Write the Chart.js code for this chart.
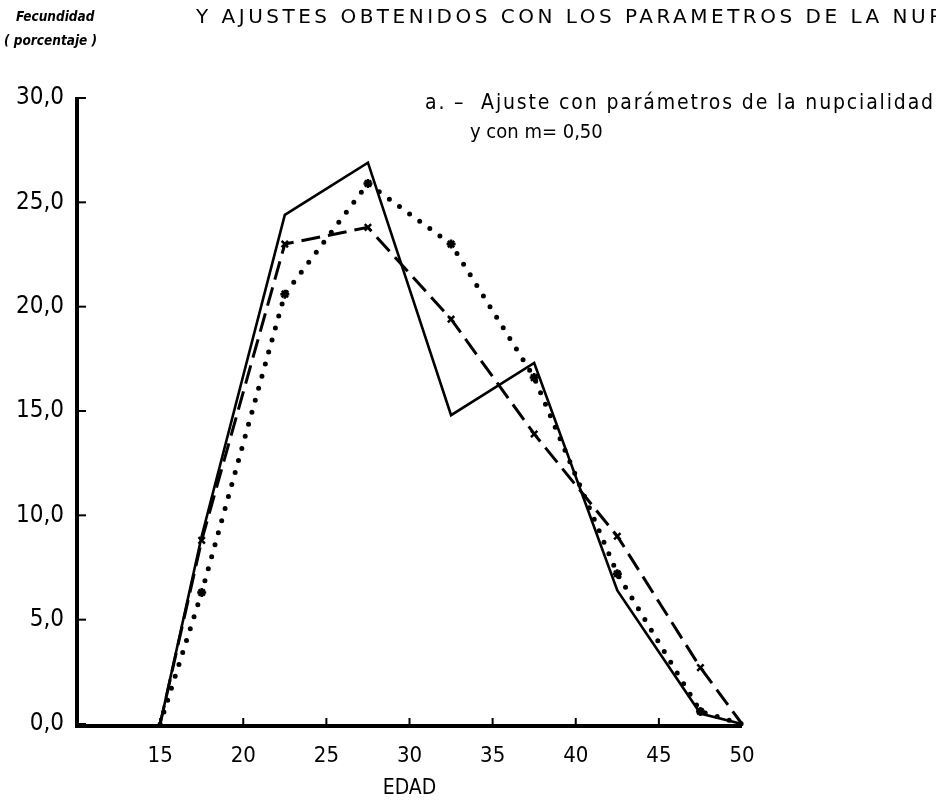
<!DOCTYPE html>
<html lang="es">
<head>
<meta charset="utf-8">
<title>Fecundidad por edad</title>
<script src="https://cdn.jsdelivr.net/npm/chart.js@4.4.1/dist/chart.umd.min.js"></script>
<style>
  html, body { margin: 0; padding: 0; background: #fff; overflow: hidden; }
  #wrap { position: relative; width: 936px; height: 803px; overflow: hidden; }
  canvas { position: absolute; left: 0; top: 0; }
  .txt { position: absolute; white-space: nowrap; color: #000;
         font-family: "DejaVu Sans Condensed", "Liberation Sans Narrow", "DejaVu Sans", sans-serif; }
  #titulo { left: 196px; top: 4px; font-size: 20px; letter-spacing: 3.5px;
            font-family: "DejaVu Sans", sans-serif; }
  #ylab1 { left: 16px; top: 8px; font-size: 13.5px; font-weight: bold; font-style: italic; }
  #ylab2 { left: 4px; top: 32px; font-size: 13.5px; font-weight: bold; font-style: italic; }
  #nota1 { left: 425px; top: 90px; font-size: 21px; letter-spacing: 1.85px; }
  #nota2 { left: 470px; top: 119px; font-size: 20px; }
</style>
</head>
<body>
<div id="wrap">
  <canvas id="grafico" width="936" height="803"></canvas>
  <div class="txt" id="titulo">Y AJUSTES OBTENIDOS CON LOS PARAMETROS DE LA NUPCIALIDAD</div>
  <div class="txt" id="ylab1">Fecundidad</div>
  <div class="txt" id="ylab2">( porcentaje )</div>
  <div class="txt" id="nota1">a. &#8211;&nbsp; Ajuste con parámetros de la nupcialidad</div>
  <div class="txt" id="nota2">y con m= 0,50</div>
</div>
<script>
// Edades (puntos medios de los grupos quinquenales) y tasas en porcentaje
const edades = [15, 17.5, 22.5, 27.5, 32.5, 37.5, 42.5, 47.5, 50];
const fecundidadObservada = [0, 9.0, 24.4, 26.9, 14.8, 17.3, 6.4, 0.5, 0];
const ajusteTrazos = [0, 8.8, 23.0, 23.8, 19.4, 13.9, 9.0, 2.7, 0];
const ajustePuntos = [0, 6.3, 20.6, 25.9, 23.0, 16.6, 7.2, 0.6, 0];
const ticksEdad = [15, 20, 25, 30, 35, 40, 45, 50];
const ticksFecundidad = [0, 5, 10, 15, 20, 25, 30];

const pares = serie => edades.map((e, i) => ({ x: e, y: serie[i] }));
const radioMarcas = edades.map(e => (e === 15 || e === 50) ? 0 : 4.5);

const FUENTE = '"DejaVu Sans Condensed", "Liberation Sans Narrow", "DejaVu Sans", sans-serif';

// Ejes en trazo grueso con marcas hacia el interior
const ejesPlugin = {
  id: 'ejes',
  afterDatasetsDraw(chart) {
    const { ctx, chartArea: a, scales: { x, y } } = chart;
    ctx.save();
    ctx.strokeStyle = '#000';
    ctx.lineCap = 'butt';
    ctx.lineWidth = 4;
    ctx.beginPath();
    ctx.moveTo(a.left, y.getPixelForValue(30) - 1);
    ctx.lineTo(a.left, a.bottom + 2);
    ctx.lineTo(x.getPixelForValue(50), a.bottom + 2);
    ctx.stroke();
    ctx.lineWidth = 2;
    ticksFecundidad.forEach(v => {
      const py = y.getPixelForValue(v);
      ctx.beginPath();
      ctx.moveTo(a.left, py);
      ctx.lineTo(a.left + 9, py);
      ctx.stroke();
    });
    ticksEdad.slice(0, -1).forEach(v => {
      const px = x.getPixelForValue(v);
      ctx.beginPath();
      ctx.moveTo(px, a.bottom);
      ctx.lineTo(px, a.bottom - 6);
      ctx.stroke();
    });
    ctx.restore();
  }
};

new Chart(document.getElementById('grafico'), {
  type: 'line',
  data: {
    datasets: [
      {
        label: 'Fecundidad observada',
        data: pares(fecundidadObservada),
        borderColor: '#000',
        borderWidth: 2.6,
        pointRadius: 0,
        tension: 0,
        clip: false
      },
      {
        label: 'Ajuste (trazos)',
        data: pares(ajusteTrazos),
        borderColor: '#000',
        borderWidth: 3,
        borderDash: [19, 8],
        pointStyle: 'crossRot',
        pointRadius: radioMarcas,
        pointBorderWidth: 2.5,
        pointBorderColor: '#000',
        tension: 0,
        clip: false
      },
      {
        label: 'Ajuste (puntos)',
        data: pares(ajustePuntos),
        borderColor: '#000',
        borderWidth: 5,
        borderDash: [0, 12.5],
        borderCapStyle: 'round',
        pointStyle: 'star',
        pointRadius: radioMarcas,
        pointBorderWidth: 2.5,
        pointBorderColor: '#000',
        tension: 0,
        clip: false
      }
    ]
  },
  options: {
    responsive: false,
    animation: false,
    devicePixelRatio: 1,
    layout: { padding: { left: 0, top: 98, right: 194, bottom: 0 } },
    plugins: { legend: { display: false }, tooltip: { enabled: false } },
    scales: {
      x: {
        type: 'linear',
        min: 10,
        max: 50,
        afterFit(s) { s.height = 79; },
        afterBuildTicks(s) { s.ticks = ticksEdad.map(v => ({ value: v })); },
        grid: { display: false, drawTicks: false },
        border: { display: false },
        ticks: {
          color: '#000',
          padding: 19,
          font: { family: FUENTE, size: 22 },
          callback: v => String(v)
        },
        title: {
          display: true,
          text: 'EDAD',
          color: '#000',
          font: { family: FUENTE, size: 21 },
          padding: { top: 0, bottom: 2 }
        }
      },
      y: {
        min: 0,
        max: 30,
        afterFit(s) { s.width = 77; },
        afterBuildTicks(s) { s.ticks = ticksFecundidad.map(v => ({ value: v })); },
        grid: { display: false, drawTicks: false },
        border: { display: false },
        ticks: {
          color: '#000',
          padding: 13,
          font: { family: FUENTE, size: 24 },
          callback: v => v.toFixed(1).replace('.', ',')
        }
      }
    }
  },
  plugins: [ejesPlugin]
});
</script>
</body>
</html>
